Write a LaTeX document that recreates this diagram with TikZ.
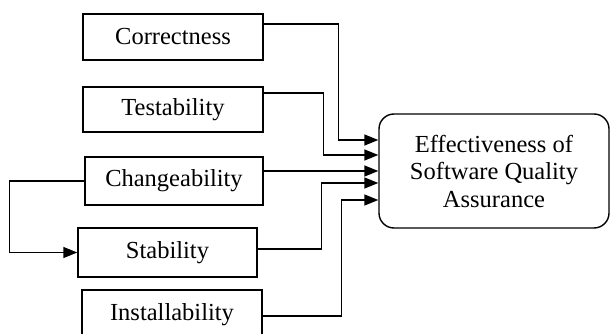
\documentclass[tikz,border=0pt]{standalone}
\usepackage{fontspec}
\setmainfont{Liberation Serif}
\usetikzlibrary{arrows.meta}
\begin{document}
\begin{tikzpicture}[x=1pt,y=-1pt,
  box/.style={draw,line width=1.4pt,inner sep=0pt,font=\fontsize{24.5}{27.5}\selectfont},
  conn/.style={line width=1.4pt},
  arr/.style={conn,-{Triangle[length=14pt,width=11pt]}}]
\useasboundingbox (0,0) rectangle (611,334);
\node[box,minimum width=180pt,minimum height=46pt] (C) at (173,37) {Correctness};
\node[box,minimum width=180pt,minimum height=45pt] (T) at (173,109.5) {Testability};
\node[box,minimum width=178pt,minimum height=48pt] (Ch) at (174,181) {Changeability};
\node[box,minimum width=179pt,minimum height=49pt] (S) at (167.5,252.5) {Stability};
\node[box,minimum width=180pt,minimum height=50pt] (I) at (172,315) {Installability};
\node[box,rounded corners=15pt,minimum width=230pt,minimum height=114pt,align=center] (E) at (494,171) {Effectiveness of\\Software Quality\\Assurance};
\draw[arr] ([yshift=13pt]C.east) -- ++(75,0) |- ([yshift=31pt]E.west);
\draw[arr] ([yshift=16.5pt]T.east) -- ++(60,0) |- ([yshift=16pt]E.west);
\draw[arr] ([yshift=10pt]Ch.east) -- (E.west);
\draw[arr] ([yshift=3.5pt]S.east) -- ++(64,0) |- ([yshift=-12pt]E.west);
\draw[arr] ([yshift=-1pt]I.east) -- ++(79,0) |- ([yshift=-29pt]E.west);
\draw[arr] (Ch.west) -- ++(-75,0) |- (S.west);
\end{tikzpicture}
\end{document}
